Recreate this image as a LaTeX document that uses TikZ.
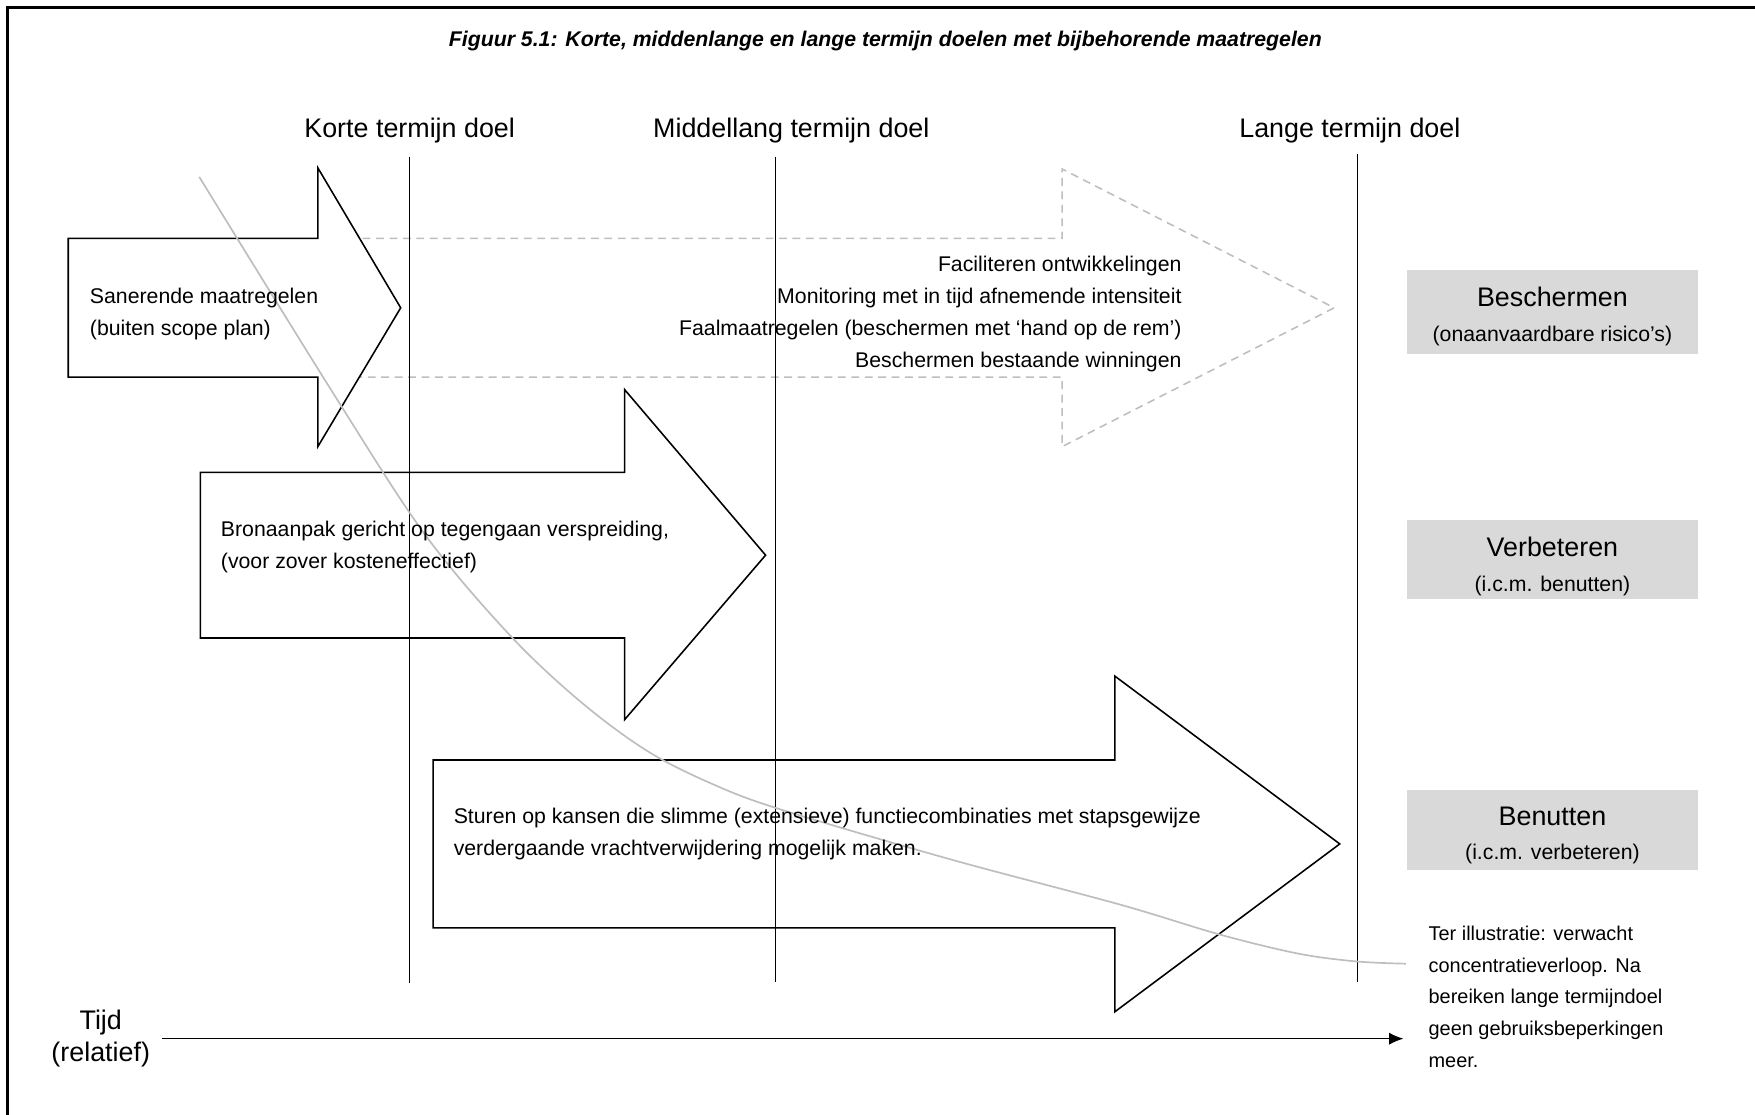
\documentclass[tikz,border=0pt]{standalone}
\usepackage{fontspec}
\setmainfont{Liberation Sans}
\usetikzlibrary{arrows.meta}
\definecolor{lijngrijs}{RGB}{190,190,190}
\definecolor{vakgrijs}{RGB}{217,217,217}

\begin{document}
\begin{tikzpicture}[x=0.5pt,y=-0.5pt,
  blok/.style={draw,fill=white,line width=0.7pt,line join=miter},
  stippel/.style={draw=lijngrijs,dash pattern=on 3.5pt off 2.5pt,line width=0.7pt},
  doellijn/.style={line width=0.7pt},
  verloop/.style={draw=lijngrijs,line width=0.75pt},
  kop/.style={font=\fontsize{12}{14}\selectfont,inner sep=0pt},
  tekst/.style={font=\fontsize{9.5}{14.2}\selectfont,inner sep=0pt,align=left,anchor=west},
  vak/.style={fill=vakgrijs,minimum width=130pt,inner sep=0pt},
  vaktekst/.style={inner sep=0pt,align=center,font=\fontsize{12}{15.5}\selectfont}]
\useasboundingbox (0,0) rectangle (1568,996);
\draw[line width=1.2pt] (7,996) -- (7,7) -- (1568,7);

\node[inner sep=0pt,font=\fontsize{9.5}{11}\selectfont\bfseries\itshape] (titel) at (791,37)
  {Figuur 5.1: Korte, middenlange en lange termijn doelen met bijbehorende maatregelen};

\node[kop] (korte) at (366,117) {Korte termijn doel};
\node[kop] (middel) at (707,117) {Middellang termijn doel};
\node[kop] (lange) at (1206,117) {Lange termijn doel};

% pijlen
\draw[stippel] (300,213) -- (949,213) -- (949,151) -- (1192,275) -- (949,399) -- (949,337) -- (300,337);
\draw[blok] (61,213) -- (284,213) -- (284,150) -- (358,275) -- (284,399) -- (284,337) -- (61,337) -- cycle;
\draw[blok] (179,422) -- (558,422) -- (558,348) -- (684,496) -- (558,643) -- (558,570) -- (179,570) -- cycle;
\draw[blok] (387,679) -- (996,679) -- (996,604) -- (1197,754) -- (996,904) -- (996,829) -- (387,829) -- cycle;

\draw[doellijn] (366,140) -- (366,878);
\draw[doellijn] (693,140) -- (693,877);
\draw[doellijn] (1213,138) -- (1213,877);

\draw[verloop] plot[smooth,tension=0.55] coordinates {(178,158) (300,355) (380,478) (456,568)
  (520,628) (580,672) (640,702) (700,724) (850,768) (1000,808) (1090,835) (1160,852)
  (1212,859) (1256,861)};

\node[tekst] (saneren) at (80,280.5) {Sanerende maatregelen\\(buiten scope plan)};
\node[tekst,align=right,anchor=east] (beschermtekst) at (1056,280.5)
  {Faciliteren ontwikkelingen\\Monitoring met in tijd afnemende intensiteit\\Faalmaatregelen (beschermen met ‘hand op de rem’)\\Beschermen bestaande winningen};
\node[tekst] (bron) at (197,489) {Bronaanpak gericht op tegengaan verspreiding,\\(voor zover kosteneffectief)};
\node[tekst] (sturen) at (405,745) {Sturen op kansen die slimme (extensieve) functiecombinaties met stapsgewijze\\verdergaande vrachtverwijdering mogelijk maken.};

\node[vak,minimum height=37.5pt] (beschermen) at (1387,278.5) {};
\node[vaktekst] (beschermenlabel) at (1387,283)
  {Beschermen\\\fontsize{9.5}{15.5}\selectfont(onaanvaardbare risico’s)};
\node[vak,minimum height=35pt] (verbeteren) at (1387,500) {};
\node[vaktekst] (verbeterenlabel) at (1387,506)
  {Verbeteren\\\fontsize{9.5}{15.5}\selectfont(i.c.m. benutten)};
\node[vak,minimum height=35.5pt] (benutten) at (1387,741.5) {};
\node[vaktekst] (benuttenlabel) at (1387,746.5)
  {Benutten\\\fontsize{9.5}{15.5}\selectfont(i.c.m. verbeteren)};

\node[tekst,font=\fontsize{8.9}{14.15}\selectfont] (illustratie) at (1276,890.5)
  {Ter illustratie: verwacht\\concentratieverloop. Na\\bereiken lange termijndoel\\geen gebruiksbeperkingen\\meer.};

\node[kop,align=center] (tijd) at (90,928) {Tijd\\(relatief)};
\draw[-{Latex[length=6.5pt,width=5.5pt]},line width=0.7pt,shorten <=5pt,shorten >=11pt]
  (tijd.east) -- (tijd.east -| illustratie.west);
\end{tikzpicture}
\end{document}
